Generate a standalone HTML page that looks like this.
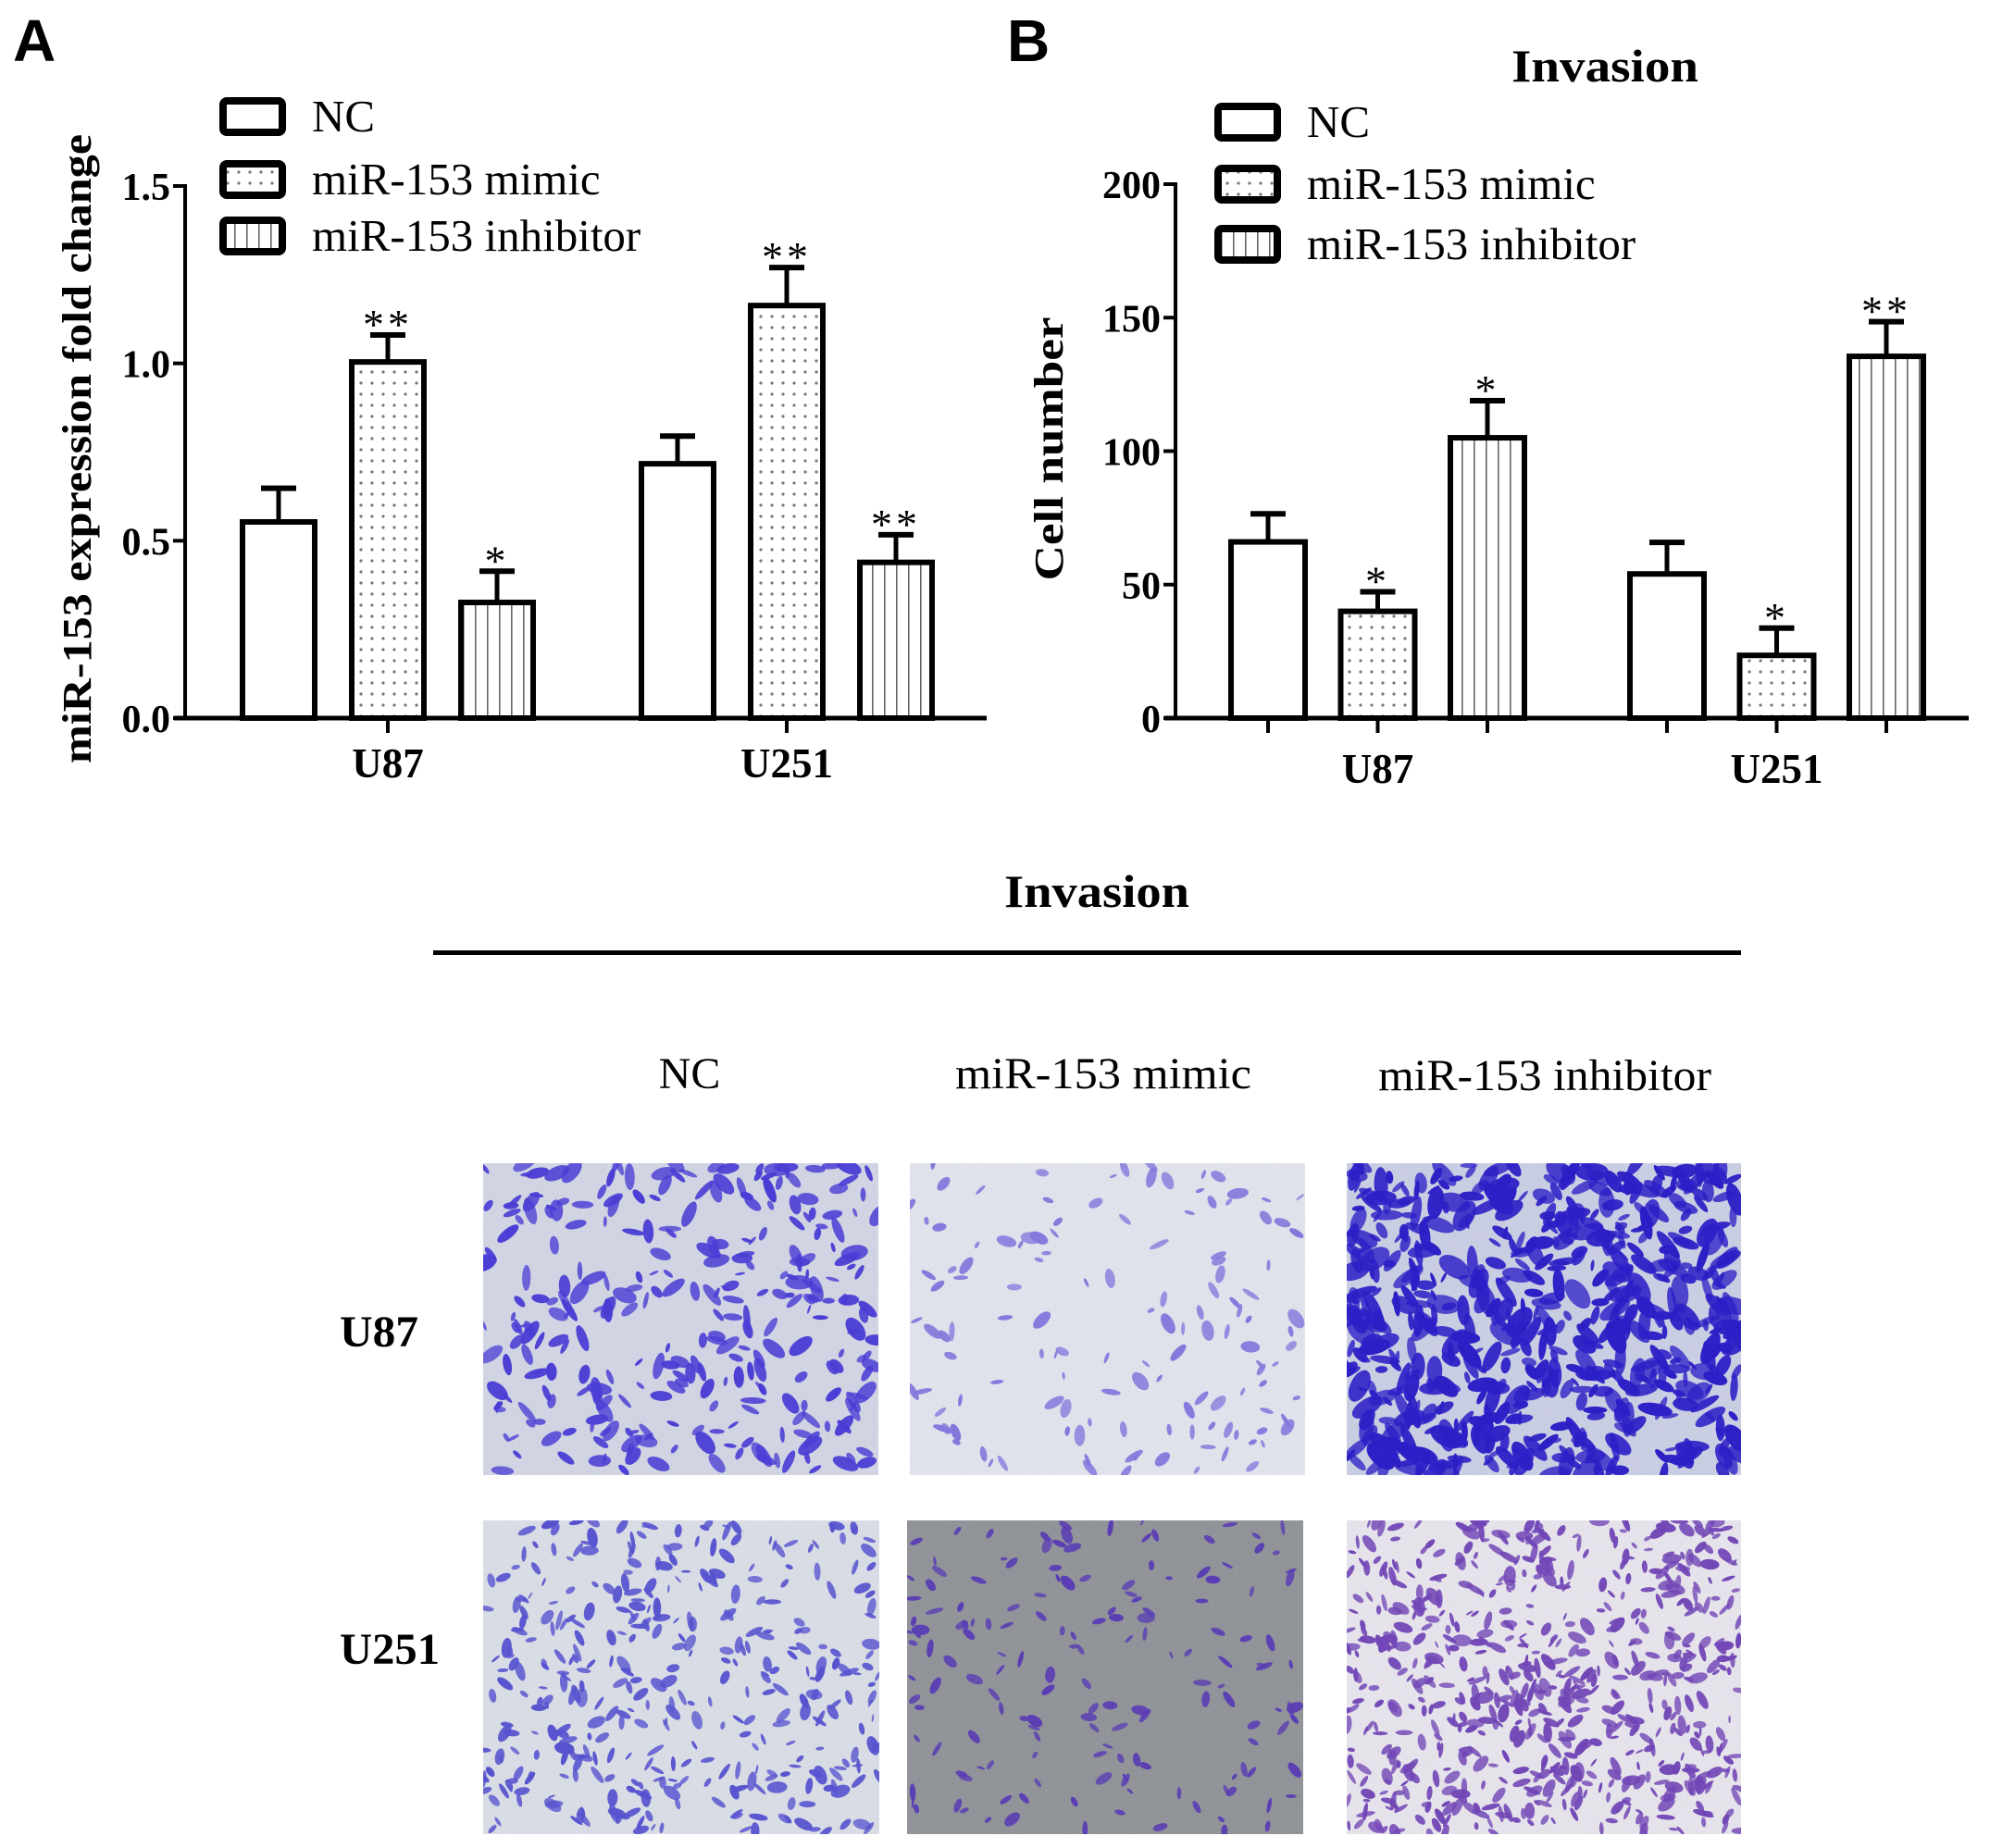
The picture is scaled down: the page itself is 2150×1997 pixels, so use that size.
<!DOCTYPE html>
<html>
<head>
<meta charset="utf-8">
<style>
  html,body{margin:0;padding:0;background:#fff;}
  svg{display:block;}
  .serif{font-family:"Liberation Serif",serif;}
  .sans{font-family:"Liberation Sans",sans-serif;}
</style>
</head>
<body>
<svg id="fig" width="2150" height="1997" viewBox="0 0 2150 1997" xmlns="http://www.w3.org/2000/svg">
  <defs>
    <pattern id="dots" width="12" height="12" patternUnits="userSpaceOnUse">
      <rect width="12" height="12" fill="#fff"/>
      <circle cx="6" cy="6" r="1.6" fill="#777"/>
    </pattern>
    <pattern id="vlines" width="13" height="13" patternUnits="userSpaceOnUse">
      <rect width="13" height="13" fill="#fff"/>
      <rect x="6" y="0" width="1.6" height="13" fill="#666"/>
    </pattern>
    <filter id="grain" x="0" y="0" width="100%" height="100%">
      <feTurbulence type="fractalNoise" baseFrequency="0.9" numOctaves="2" seed="3"/>
      <feColorMatrix type="matrix" values="0 0 0 0 0.5  0 0 0 0 0.5  0 0 0 0 0.5  0 0 0 1.2 -0.35"/>
    </filter>
  </defs>

  <text class="sans" x="14" y="66" font-size="64" font-weight="bold">A</text>
  <text class="sans" x="1088" y="66" font-size="64" font-weight="bold">B</text>

  <g id="chartA"></g>
  <g id="chartB"></g>

  <text class="serif" x="1734" y="88" font-size="50" font-weight="bold" text-anchor="middle" textLength="202" lengthAdjust="spacingAndGlyphs">Invasion</text>

  <text class="serif" x="1185" y="980" font-size="50" font-weight="bold" text-anchor="middle" textLength="200" lengthAdjust="spacingAndGlyphs">Invasion</text>
  <rect x="468" y="1027" width="1413" height="5" fill="#000"/>
  <text class="serif" x="745" y="1176" font-size="48" text-anchor="middle">NC</text>
  <text class="serif" x="1192" y="1176" font-size="48" text-anchor="middle" textLength="320" lengthAdjust="spacingAndGlyphs">miR-153 mimic</text>
  <text class="serif" x="1669" y="1178" font-size="48" text-anchor="middle" textLength="360" lengthAdjust="spacingAndGlyphs">miR-153 inhibitor</text>
  <text class="serif" x="367" y="1455" font-size="48" font-weight="bold" textLength="85" lengthAdjust="spacingAndGlyphs">U87</text>
  <text class="serif" x="367" y="1798" font-size="48" font-weight="bold" textLength="108" lengthAdjust="spacingAndGlyphs">U251</text>
  <g id="micro"></g>
</svg>

<script>
// ---------- data ----------
const groups = ["U87", "U251"];
const seriesNames = ["NC", "miR-153 mimic", "miR-153 inhibitor"];
// Panel A: miR-153 expression fold change
const aNC = [0.553, 0.717];
const aMimic = [1.004, 1.163];
const aInhib = [0.326, 0.439];
const aNCerr = [0.095, 0.078];
const aMimicErr = [0.076, 0.107];
const aInhibErr = [0.088, 0.078];
const aStars = [["", "**", "*"], ["", "**", "**"]];
const aTicks = [0, 0.5, 1.0, 1.5];
const aTickLabels = ["0.0", "0.5", "1.0", "1.5"];
// Panel B: Invasion cell number
const bNC = [66, 54];
const bMimic = [40, 23.5];
const bInhib = [105, 135.5];
const bNCerr = [10.5, 11.8];
const bMimicErr = [7.3, 10.2];
const bInhibErr = [13.9, 13];
const bStars = [["", "*", "*"], ["", "*", "**"]];
const bTicks = [0, 50, 100, 150, 200];
const bTickLabels = ["0", "50", "100", "150", "200"];

const NS = "http://www.w3.org/2000/svg";
function mk(tag, attrs, parent) {
  const e = document.createElementNS(NS, tag);
  for (const k in attrs) e.setAttribute(k, attrs[k]);
  parent.appendChild(e);
  return e;
}
const fills = ["#fff", "url(#dots)", "url(#vlines)"];

function drawChart(g, cfg) {
  const yScale = v => cfg.y0 - (v - cfg.vmin) / (cfg.vmax - cfg.vmin) * (cfg.y0 - cfg.y1);
  const vals = [cfg.nc, cfg.mimic, cfg.inhib];
  const errs = [cfg.ncErr, cfg.mimicErr, cfg.inhibErr];
  for (let gi = 0; gi < groups.length; gi++) {
    for (let si = 0; si < 3; si++) {
      const cx = cfg.groupStart[gi] + si * cfg.step;
      const v = vals[si][gi], e = errs[si][gi];
      const yt = yScale(v), ye = yScale(v + e);
      const stem = mk("line", {x1: cx, x2: cx, y1: yt, y2: ye, stroke: "#000", "stroke-width": 5}, g);
      
      
      const cap = mk("line", {x1: cx - 19, x2: cx + 19, y1: ye, y2: ye, stroke: "#000", "stroke-width": 6}, g);
      
      
      const bar = mk("rect", {x: cx - cfg.bw / 2, y: yt, width: cfg.bw, height: cfg.y0 - yt,
        fill: fills[si], stroke: "#000", "stroke-width": 6}, g);
      
      
      const s = cfg.stars[gi][si];
      if (s) {
        const t = mk("text", {x: cx, y: ye + 4, "text-anchor": "middle", "font-size": 46,
          "letter-spacing": 4, class: "serif"}, g);
        t.textContent = s;
        
        
      }
      if (cfg.barTicks) {
        const tk = mk("line", {x1: cx, x2: cx, y1: cfg.y0, y2: cfg.y0 + 16, stroke: "#000", "stroke-width": 4}, g);
        
        
      }
    }
    const gc = cfg.groupStart[gi] + cfg.step;
    if (!cfg.barTicks) {
      const tk = mk("line", {x1: gc, x2: gc, y1: cfg.y0, y2: cfg.y0 + 16, stroke: "#000", "stroke-width": 4}, g);
      
      
    }
    const lbl = mk("text", {x: gc, y: cfg.xlabY, "text-anchor": "middle", "font-size": 45,
      "font-weight": "bold", class: "serif"}, g);
    lbl.textContent = groups[gi];
    
    
  }
  const ya = mk("line", {x1: cfg.ax, x2: cfg.ax, y1: cfg.y1 - 2, y2: cfg.y0 + 2, stroke: "#000", "stroke-width": 4}, g);
  
  
  const xa = mk("line", {x1: cfg.ax - 12, x2: cfg.axEnd, y1: cfg.y0, y2: cfg.y0, stroke: "#000", "stroke-width": 5}, g);
  
  
  cfg.ticks.forEach((tv, i) => {
    const y = yScale(tv);
    const tk = mk("line", {x1: cfg.ax - 13, x2: cfg.ax, y1: y, y2: y, stroke: "#000", "stroke-width": 4}, g);
    
    
    const t = mk("text", {x: cfg.ax - 16, y: y + 15, "text-anchor": "end", "font-size": 42,
      "font-weight": "bold", class: "serif"}, g);
    t.textContent = cfg.tickLabels[i];
    
    
  });
  const yt = mk("text", {x: 0, y: 0, "text-anchor": "middle", "font-size": 44, "font-weight": "bold",
    class: "serif", transform: `translate(${cfg.ytX},${cfg.ytY}) rotate(-90)`,
    textLength: cfg.ytLen, lengthAdjust: "spacingAndGlyphs"}, g);
  yt.textContent = cfg.yTitle;
  
  
  cfg.legendY.forEach((ly, i) => {
    const r = mk("rect", {x: cfg.legX, y: ly - 17, width: 64, height: 34, rx: 4, fill: fills[i],
      stroke: "#000", "stroke-width": 8}, g);
    
    
    const t = mk("text", {x: cfg.legX + 96, y: ly + 16, "font-size": 49, class: "serif"}, g);
    t.textContent = seriesNames[i];
    
    
  });
}

drawChart(document.getElementById("chartA"), {
  nc: aNC, mimic: aMimic, inhib: aInhib, ncErr: aNCerr, mimicErr: aMimicErr, inhibErr: aInhibErr,
  stars: aStars, ticks: aTicks, tickLabels: aTickLabels, vmin: 0, vmax: 1.5,
  y0: 776, y1: 201, ax: 200, axEnd: 1066, groupStart: [301, 732], step: 118, bw: 78,
  barTicks: false, xlabY: 840, ytX: 98, ytY: 485, ytLen: 680, yTitle: "miR-153 expression fold change",
  legX: 241, legendY: [126, 194, 255]
});
drawChart(document.getElementById("chartB"), {
  nc: bNC, mimic: bMimic, inhib: bInhib, ncErr: bNCerr, mimicErr: bMimicErr, inhibErr: bInhibErr,
  stars: bStars, ticks: bTicks, tickLabels: bTickLabels, vmin: 0, vmax: 200,
  y0: 776, y1: 199, ax: 1270, axEnd: 2127, groupStart: [1370, 1801], step: 118.5, bw: 80,
  barTicks: true, xlabY: 846, ytX: 1148, ytY: 485, ytLen: 285, yTitle: "Cell number",
  legX: 1316, legendY: [132, 199, 264]
});

// ---------- micrographs (decorative images) ----------
let seed = 12345;
function rnd() { seed = (seed * 1103515245 + 12345) % 2147483648; return seed / 2147483648; }
const micro = document.getElementById("micro");
const panels = [
  {x: 522, y: 1257, w: 427, h: 337, bg: "#d3d6e6", cell: "#4a3dd4", n: 300, smin: 5, smax: 15, name: "u87-nc"},
  {x: 983, y: 1257, w: 427, h: 337, bg: "#e3e5f0", cell: "#8378dc", n: 130, smin: 4, smax: 12, name: "u87-mimic"},
  {x: 1455, y: 1257, w: 426, h: 337, bg: "#cbcfe6", cell: "#2c1fc6", n: 620, smin: 6, smax: 19, name: "u87-inhibitor"},
  {x: 522, y: 1643, w: 428, h: 339, bg: "#dbdfe8", cell: "#5753cf", n: 380, smin: 4, smax: 11, name: "u251-nc"},
  {x: 980, y: 1643, w: 428, h: 339, bg: "#8d9096", cell: "#5a3db4", n: 160, smin: 4, smax: 10, name: "u251-mimic"},
  {x: 1455, y: 1643, w: 426, h: 339, bg: "#e9e6ef", cell: "#7146b6", n: 650, smin: 4, smax: 11, name: "u251-inhibitor"}
];
panels.forEach(p => {
  const g = mk("g", {}, micro);
  
  
  mk("rect", {x: p.x, y: p.y, width: p.w, height: p.h, fill: p.bg}, g);
  mk("rect", {x: p.x, y: p.y, width: p.w, height: p.h, filter: "url(#grain)", opacity: 0.35}, g);
  const cp = "clip-" + p.name;
  const c = mk("clipPath", {id: cp}, g);
  mk("rect", {x: p.x, y: p.y, width: p.w, height: p.h}, c);
  const cells = mk("g", {"clip-path": `url(#${cp})`, fill: p.cell}, g);
  for (let i = 0; i < p.n; i++) {
    const cx = p.x + rnd() * p.w, cy = p.y + rnd() * p.h;
    const s = p.smin + rnd() * (p.smax - p.smin);
    const ang = rnd() * 180;
    mk("ellipse", {cx: cx.toFixed(1), cy: cy.toFixed(1), rx: s.toFixed(1), ry: (s * (0.25 + rnd() * 0.35)).toFixed(1),
      transform: `rotate(${ang.toFixed(0)} ${cx.toFixed(1)} ${cy.toFixed(1)})`, opacity: (0.75 + rnd() * 0.25).toFixed(2)}, cells);
  }
});
</script>
</body>
</html>
